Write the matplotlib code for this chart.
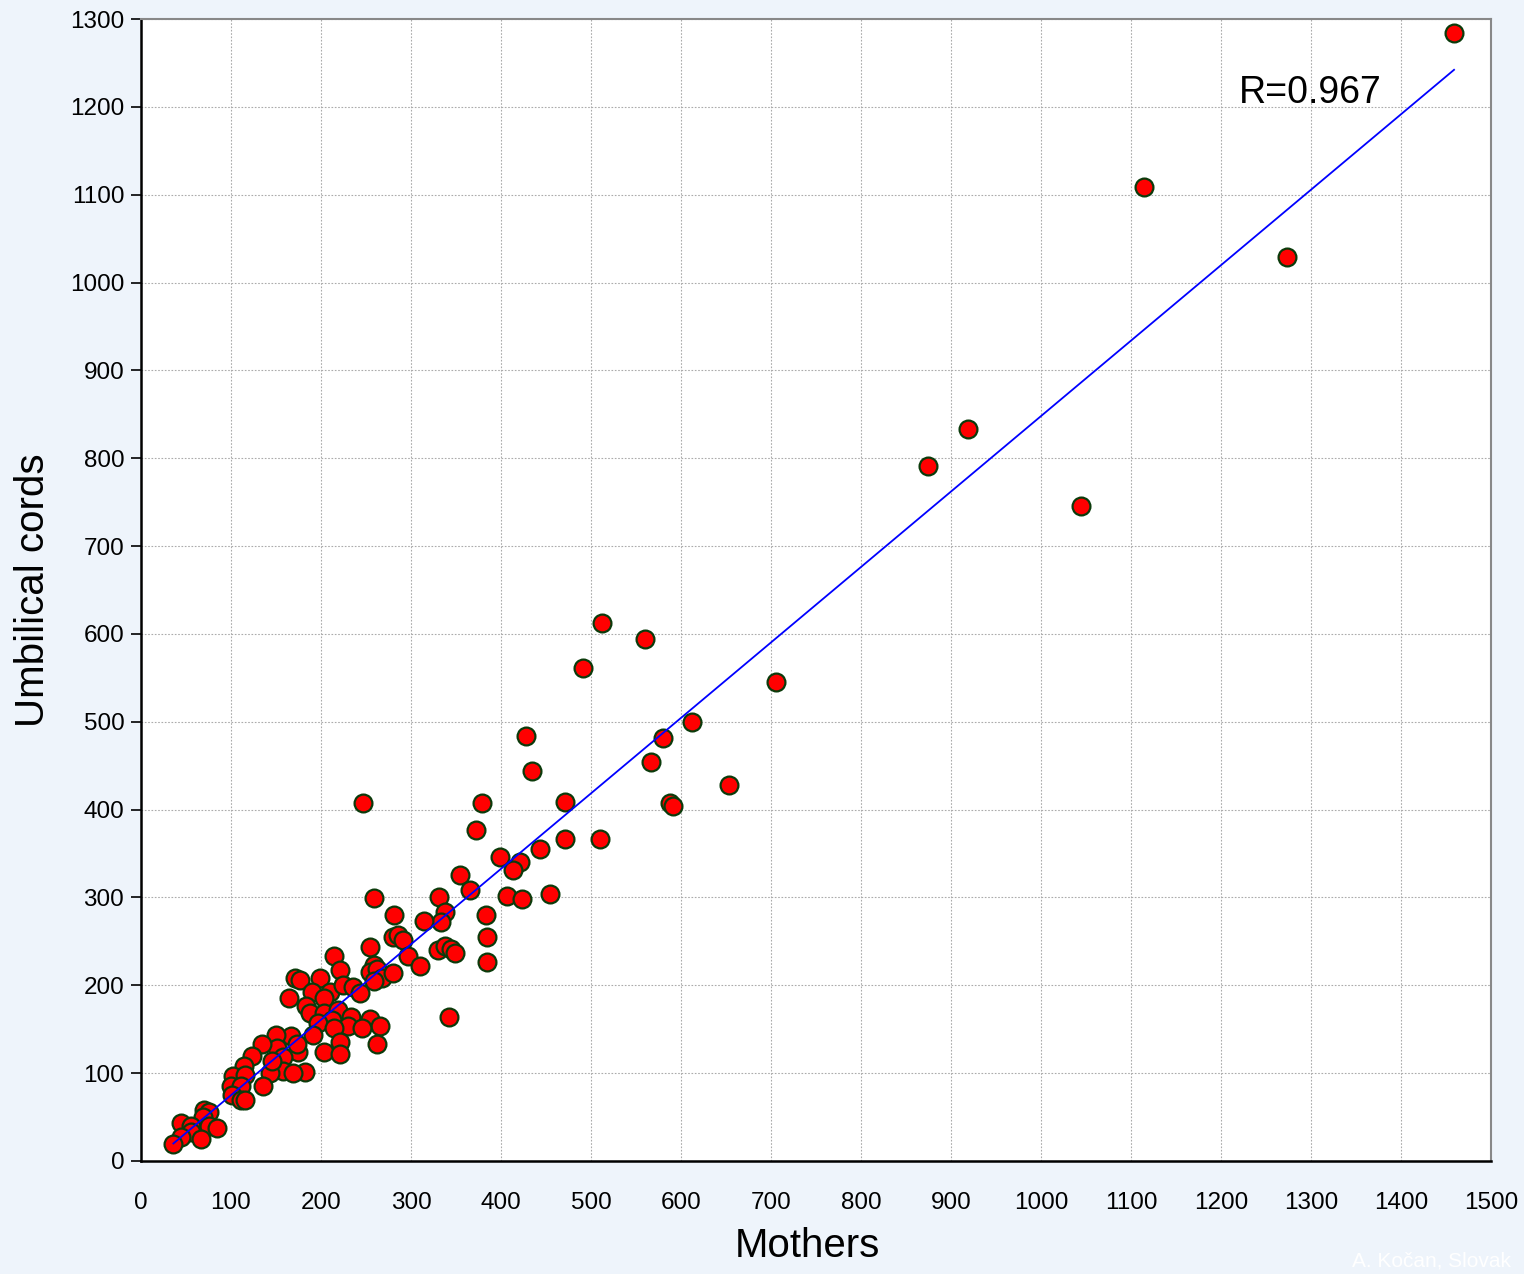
import numpy as np
import matplotlib
matplotlib.use('Agg')
import matplotlib.pyplot as plt

plt.rcParams['font.family'] = ['Liberation Sans', 'DejaVu Sans']

# concentrations: mothers (x) vs umbilical cords (y)
mothers = [
    1459, 1114, 1273, 919, 874, 1044, 706, 612, 580, 567, 653, 588, 591,
    560, 512, 491, 510, 471, 471, 454, 443, 434, 428, 421, 413, 407, 423,
    399, 379, 372, 355, 366, 331, 338, 333, 314, 383, 385, 385, 342, 247,
    259, 281, 255, 280, 286, 291, 297, 310, 330, 338, 344, 349, 214, 221,
    171, 177, 199, 164, 190, 210, 203, 225, 236, 243, 259, 254, 262, 268,
    259, 280, 183, 188, 203, 219, 212, 197, 233, 230, 255, 266, 246, 262,
    214, 221, 203, 221, 191, 167, 175, 150, 151, 134, 158, 173, 123, 114,
    182, 158, 143, 102, 116, 169, 146, 136, 100, 111, 101, 111, 116, 70,
    76, 69, 44, 56, 76, 85, 56, 44, 67, 36,
]
cords = [
    1284, 1109, 1029, 833, 791, 746, 545, 500, 481, 454, 428, 408, 404,
    594, 612, 561, 367, 409, 367, 304, 355, 444, 484, 340, 331, 302, 298,
    346, 408, 377, 326, 308, 300, 284, 272, 273, 280, 255, 227, 164, 408,
    299, 280, 244, 255, 257, 252, 233, 222, 240, 245, 241, 237, 233, 217,
    208, 206, 208, 186, 192, 192, 186, 200, 198, 191, 223, 215, 219, 208,
    205, 214, 176, 169, 169, 172, 161, 157, 164, 154, 162, 154, 151, 133,
    151, 136, 124, 122, 143, 142, 124, 143, 129, 133, 118, 133, 120, 108,
    101, 102, 100, 97, 98, 100, 114, 85, 85, 85, 75, 69, 69, 58,
    56, 50, 43, 40, 40, 37, 33, 27, 25, 19,
]

FIT_SLOPE = 0.859
FIT_INTERCEPT = -11.0
R_TEXT = 'R=0.967'

fig = plt.figure(figsize=(15.24, 12.74), dpi=100)
fig.patch.set_facecolor('#eef4fb')
ax = fig.add_axes([0.0925, 0.0887, 0.8858, 0.8963])
ax.set_facecolor('white')

ax.scatter(mothers, cords, s=165, c='#ff0000', edgecolors='#0b3b0b',
           linewidths=1.6, zorder=3)

x_fit = np.array([min(mothers), max(mothers)])
ax.plot(x_fit, FIT_SLOPE * x_fit + FIT_INTERCEPT, color='#0000ff', lw=1.3, zorder=4)

ax.text(1220, 1216, R_TEXT, fontsize=27, ha='left', va='center')

ax.set_xlim(0, 1500)
ax.set_ylim(0, 1300)
ax.set_xticks(np.arange(0, 1501, 100))
ax.set_yticks(np.arange(0, 1301, 100))
ax.grid(True, color='#ababab', linestyle=(0, (1.5, 1.5)), linewidth=0.8)
ax.set_axisbelow(True)
ax.tick_params(axis='y', direction='out', length=7, width=1.2, labelsize=17.5, pad=5)
ax.tick_params(axis='x', length=0, labelsize=17.5, pad=22)

for side in ('left', 'bottom'):
    ax.spines[side].set_linewidth(1.8)
    ax.spines[side].set_color('black')
for side in ('top', 'right'):
    ax.spines[side].set_linewidth(1.5)
    ax.spines[side].set_color('#888888')

ax.set_xlabel('Mothers', fontsize=29, labelpad=14)
ax.xaxis.set_label_coords(0.494, -0.058)
ax.set_ylabel('Umbilical cords', fontsize=29, labelpad=13)

fig.text(0.887, 0.003, 'A. Kočan, Slovak', color='white', fontsize=15, ha='left', va='bottom')

fig.savefig('out.png', dpi=100, facecolor=fig.get_facecolor())
